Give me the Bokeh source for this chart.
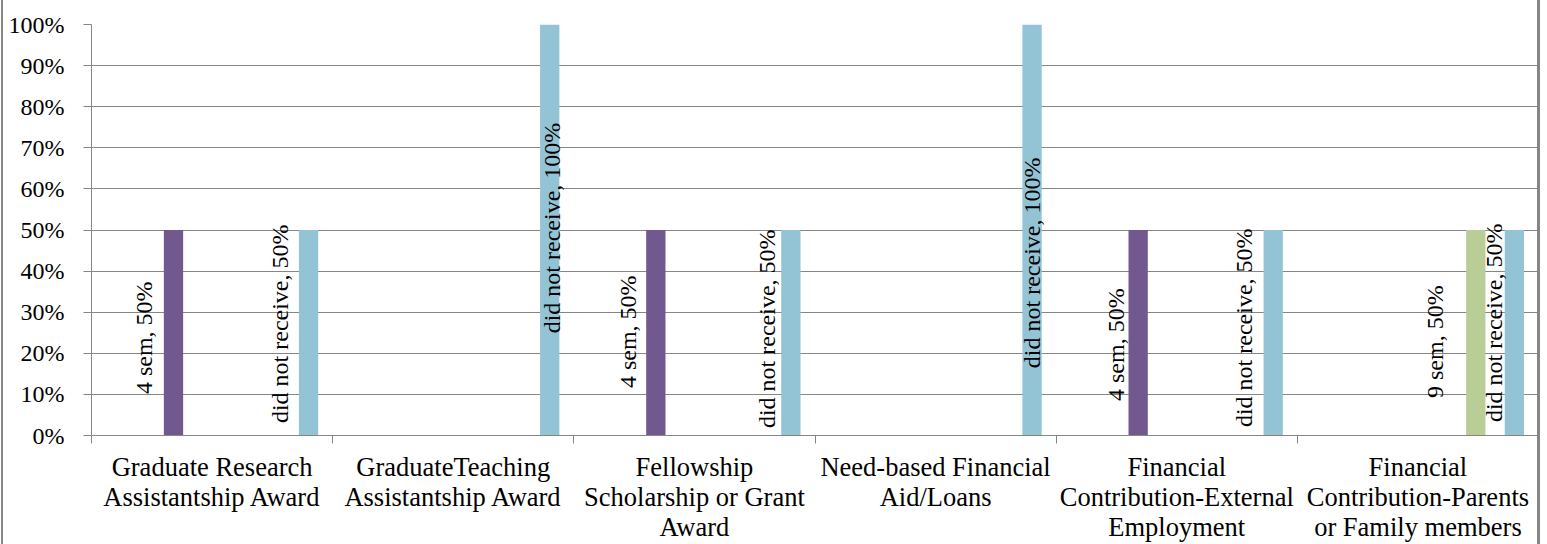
import math
from bokeh.plotting import figure
from bokeh.models import ColumnDataSource, FixedTicker, Range1d, Span
from bokeh.core.properties import value
from bokeh.embed import file_html
from bokeh.resources import INLINE

# ---------------- data ----------------
categories = [
    "Graduate Research\nAssistantship Award",
    "GraduateTeaching\nAssistantship Award",
    "Fellowship\nScholarship or Grant\nAward",
    "Need-based Financial\nAid/Loans",
    "Financial\nContribution-External\nEmployment",
    "Financial\nContribution-Parents\nor Family members",
]
series = ["1 sem", "2 sem", "3 sem", "4 sem", "5 sem", "6 sem",
          "7 sem", "8 sem", "9 sem", "10 sem", "did not receive"]
sem_1 = [0, 0, 0, 0, 0, 0]
sem_2 = [0, 0, 0, 0, 0, 0]
sem_3 = [0, 0, 0, 0, 0, 0]
sem_4 = [50, 0, 50, 0, 50, 0]
sem_5 = [0, 0, 0, 0, 0, 0]
sem_6 = [0, 0, 0, 0, 0, 0]
sem_7 = [0, 0, 0, 0, 0, 0]
sem_8 = [0, 0, 0, 0, 0, 0]
sem_9 = [0, 0, 0, 0, 0, 50]
sem_10 = [0, 0, 0, 0, 0, 0]
did_not_receive = [50, 100, 50, 100, 50, 50]
y_ticks = [0, 10, 20, 30, 40, 50, 60, 70, 80, 90, 100]
y_tick_labels = ["0%", "10%", "20%", "30%", "40%", "50%", "60%", "70%", "80%", "90%", "100%"]

series_values = [sem_1, sem_2, sem_3, sem_4, sem_5, sem_6, sem_7, sem_8, sem_9, sem_10, did_not_receive]

# ---------------- styles ----------------
series_colors = ["#4F81BD", "#C0504D", "#9BBB59", "#71588F", "#4BACC6", "#F79646",
                 "#2C4D75", "#772C2A", "#B9CD96", "#A99BBD", "#93C4D6"]
FONT = "Liberation Serif"
FONT_ML = "'Liberation Serif', 'Times New Roman', serif"
GRID = "#868686"
W, H = 1547, 544
LEFT, TOP, RIGHT_EDGE = 91, 24, 1538
FRAME_H = 413
GAP = 1.5  # gap width as a fraction of a bar width

# manual label nudges (pixels): horizontal, vertical (down positive)
label_dx_px = [-29, -29, 2, -28, -24, 0, -22, -29, -41, -20]
label_dy_px = [5, -9, -2, -1, -4, 33, 12, -5, 9, -10]

n = len(series)
bw = 1.0 / (n + GAP)

p = figure(width=W, height=H, output_backend="svg", toolbar_location=None,
           x_range=Range1d(0, len(categories)), y_range=Range1d(0, 100),
           min_border_left=LEFT, min_border_top=TOP, min_border_right=W - RIGHT_EDGE,
           min_border_bottom=H - TOP - FRAME_H)
p.outline_line_color = None
p.background_fill_alpha = 0
p.border_fill_alpha = 0
# chart-area border (left and right edges of the original chart box)
p.styles = {"background": "linear-gradient(90deg, #ffffff 0px, #ffffff 1px, #868686 1px, #868686 3px, "
                          "#ffffff 3px, #ffffff 1537px, #868686 1537px, #868686 1540px, #ffffff 1540px)"}

for k, (name, vals) in enumerate(zip(series, series_values)):
    xs = [i + (GAP / 2 + k + 0.5) * bw for i in range(len(categories))]
    src = ColumnDataSource(dict(x=xs, top=vals))
    p.vbar(x="x", top="top", bottom=0, width=bw, source=src,
           fill_color=series_colors[k], line_color=None)

lx, ly, lt, ldx = [], [], [], []
j = 0
for i in range(len(categories)):
    for k, (name, vals) in enumerate(zip(series, series_values)):
        v = vals[i]
        if v > 0:
            lx.append(i + (GAP / 2 + k + 0.5) * bw)
            ly.append(v / 2 - label_dy_px[j] * 100.0 / FRAME_H)
            lt.append(f"{name}, {v}%")
            ldx.append(label_dx_px[j])
            j += 1
lsrc = ColumnDataSource(dict(x=lx, y=ly, text=lt, dx=ldx))
p.text(x="x", y="y", text="text", x_offset="dx", source=lsrc, angle=math.pi / 2,
       text_align="center", text_baseline="middle", text_color="black",
       text_font=value(FONT), text_font_size="24px")

# y axis
p.yaxis.ticker = FixedTicker(ticks=y_ticks)
p.yaxis.major_label_overrides = {t: lab for t, lab in zip(y_ticks, y_tick_labels)}
p.yaxis.major_label_text_font = FONT
p.yaxis.major_label_text_font_size = "24px"
p.yaxis.major_label_text_color = "black"
p.yaxis.major_label_standoff = 19
p.yaxis.axis_line_color = GRID
p.yaxis.major_tick_line_color = GRID
p.yaxis.major_tick_in = 0
p.yaxis.major_tick_out = 8
p.yaxis.minor_tick_line_color = None
p.ygrid.ticker = FixedTicker(ticks=y_ticks)
p.ygrid.grid_line_color = GRID
p.xgrid.grid_line_color = None

# x axis: labels at centres, tick marks at category boundaries
centres = [i + 0.5 for i in range(len(categories))]
bounds = [float(i) for i in range(len(categories) + 1)]
p.xaxis.ticker = FixedTicker(ticks=centres, minor_ticks=bounds)
p.xaxis.major_label_overrides = {c: lab for c, lab in zip(centres, categories)}
p.xaxis.major_label_text_font = FONT_ML
p.xaxis.major_label_text_font_size = "26.5px"
p.xaxis.major_label_text_color = "black"
p.xaxis.major_label_text_line_height = 1.0
p.xaxis.major_label_standoff = 8
p.xaxis.major_label_orientation = "horizontal"
p.xaxis.axis_line_color = GRID
p.xaxis.major_tick_line_color = None
p.xaxis.major_tick_in = 0
p.xaxis.major_tick_out = 0
p.xaxis.minor_tick_line_color = GRID
p.xaxis.minor_tick_in = 0
p.xaxis.minor_tick_out = 8

p.add_layout(Span(location=len(categories), dimension="height", line_color=GRID, line_width=3))

open("out.html", "w").write(file_html(p, INLINE))
